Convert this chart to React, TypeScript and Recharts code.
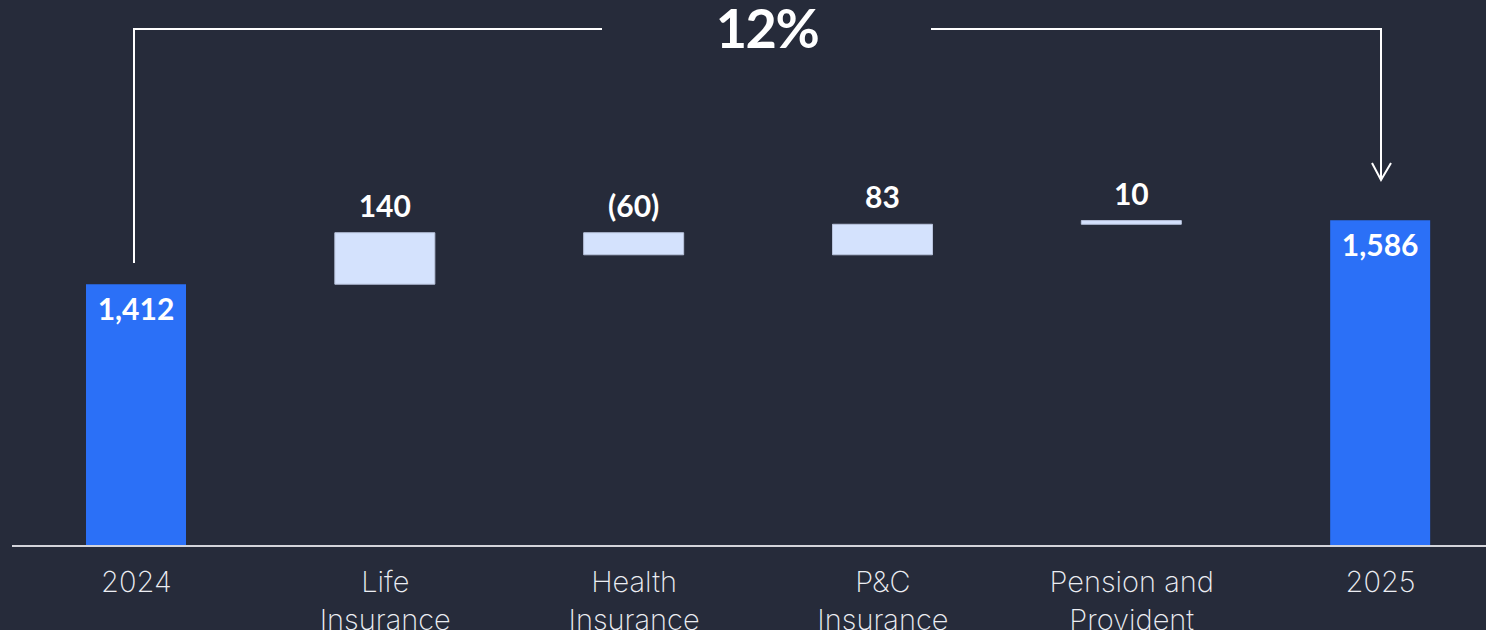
import { Bar, BarChart, Cell, LabelList, XAxis, YAxis } from "recharts";

const categories = ["2024", "Life\nInsurance", "Health\nInsurance", "P&C\nInsurance", "Pension and\nProvident", "2025"];
const values = [1412, 140, -60, 83, 10, 1586];
const kinds = ["total", "delta", "delta", "delta", "delta", "total"];
const growthLabel = "12%";

const BG = "#262b3a";
const TOTAL = "#2b70f7";
const DELTA = "#d4e2fd";
const AXIS_MIN = 700;

const fmt = (v: number) => (v < 0 ? `(${Math.abs(v).toLocaleString("en-US")})` : v.toLocaleString("en-US"));

let running = 0;
const data = categories.map((name, i) => {
    let range: [number, number];
    if (kinds[i] === "total") {
        range = [AXIS_MIN, values[i]];
        running = values[i];
    } else {
        const start = running;
        running = start + values[i];
        range = [Math.min(start, running), Math.max(start, running)];
    }
    return { name, range, label: fmt(values[i]), kind: kinds[i] };
});

const Tick = (props: any) => {
    const { x, y, payload } = props;
    const lines = String(payload.value).split("\n");
    return (
        <text x={x} y={y} textAnchor="middle" fill="#eceef3" fontFamily="Inter" fontWeight={200} fontSize={29}>
            {lines.map((l, i) => (
                <tspan key={i} x={x} y={y + 38 + i * 38}>{l}</tspan>
            ))}
        </text>
    );
};

const ValueLabel = (props: any) => {
    const { x, y, width, height, value, index } = props;
    const top = Math.min(y, y + height);
    const inside = data[index].kind === "total";
    return (
        <text
            x={x + width / 2}
            y={inside ? top + 36 : top - 16}
            textAnchor="middle"
            fill="#ffffff"
            fontFamily="Lato"
            fontWeight={700}
            fontSize={30}
        >
            {value}
        </text>
    );
};

export default function App() {
    return (
        <div style={{ position: "relative", width: 1486, height: 630, overflow: "hidden", background: BG }}>
            <style>{`body{margin:0;background:${BG}}`}</style>
            <BarChart width={1505} height={630} data={data} margin={{ top: 68, right: 0, bottom: 0, left: 12 }} barSize={100}>
                <XAxis
                    dataKey="name"
                    interval={0}
                    tickLine={false}
                    axisLine={{ stroke: "#d3d4da", strokeWidth: 2 }}
                    tick={<Tick />}
                    height={84}
                />
                <YAxis hide domain={[AXIS_MIN, 2000]} allowDataOverflow />
                <Bar dataKey="range" isAnimationActive={false}>
                    {data.map((d, i) => (
                        <Cell key={i} fill={d.kind === "total" ? TOTAL : DELTA} stroke={d.kind === "total" ? "none" : "#b8c3dc"} strokeWidth={d.kind === "total" ? 0 : 1} />
                    ))}
                    <LabelList dataKey="label" content={<ValueLabel />} />
                </Bar>
            </BarChart>
            <svg width={1486} height={630} style={{ position: "absolute", left: 0, top: 0, pointerEvents: "none" }}>
                <path d="M134 263 V29 H602" fill="none" stroke="#ffffff" strokeWidth={2} />
                <path d="M931 29 H1381 V180" fill="none" stroke="#ffffff" strokeWidth={2} />
                <path d="M1372 163 L1381 180 L1391 163" fill="none" stroke="#ffffff" strokeWidth={2} />
                <text x={767} y={48} textAnchor="middle" fill="#ffffff" fontFamily="Lato" fontWeight={700} fontSize={54} letterSpacing={-1.5}>
                    {growthLabel}
                </text>
            </svg>
        </div>
    );
}
